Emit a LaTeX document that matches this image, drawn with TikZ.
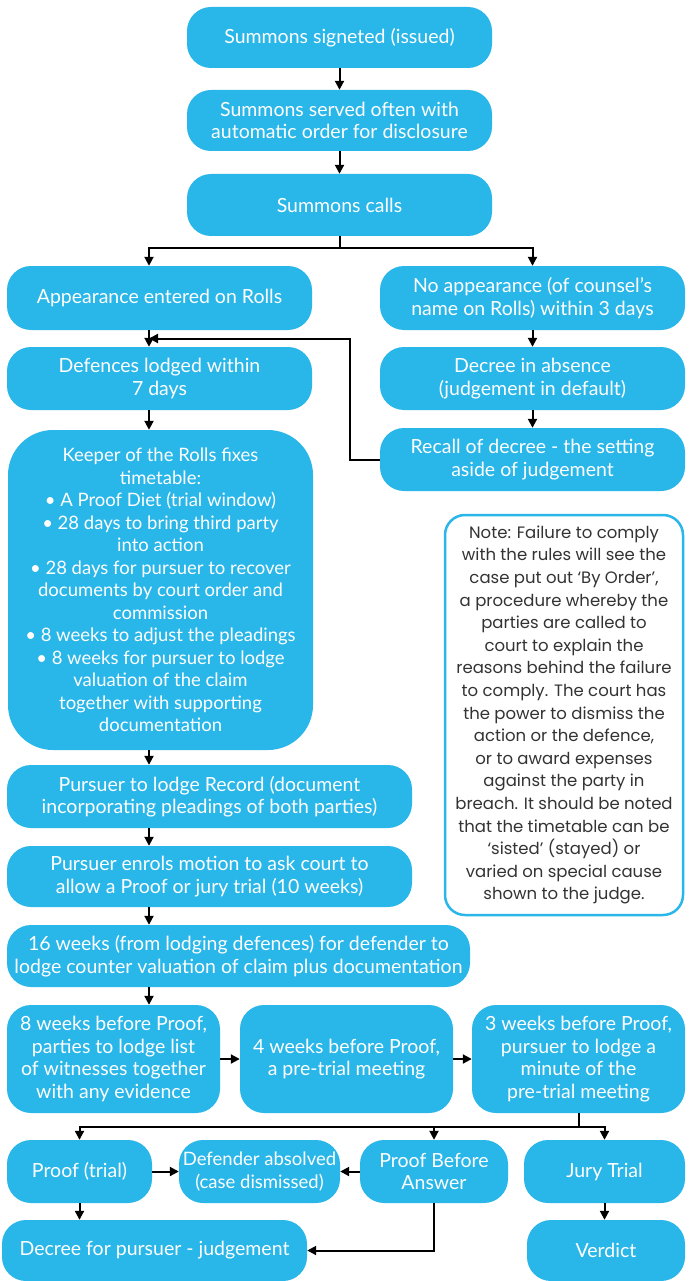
\documentclass[tikz,border=0pt]{standalone}
\usepackage{fontspec}
\setmainfont{Lato}
\newfontfamily\notefont{Poppins}
\usetikzlibrary{arrows.meta,positioning,calc}

\definecolor{stageblue}{HTML}{29B6E9}
\definecolor{notegray}{HTML}{333333}

\begin{document}
\begin{tikzpicture}[x=1pt,y=-1pt,
		stagebox/.style={fill=stageblue, text=white, rounded corners=24pt, align=center,
			inner sep=0pt, font=\fontsize{19.5}{22.5}\selectfont},
		notebox/.style={draw=stageblue, line width=2.5pt, fill=white, text=notegray,
			rounded corners=20pt, align=center, inner sep=0pt, font=\notefont\fontsize{16.5}{22.6}\selectfont},
		flow/.style={line width=2pt, -{Triangle[length=9pt,width=9pt]}},
		link/.style={line width=2pt}]
			\useasboundingbox (0,0) rectangle (688,1281);
			\coordinate (spine) at (149,0);
			
			% Issue and service
			\node[stagebox, minimum width=305, minimum height=61] (signeted) at (339.5,37.5) {Summons signeted (issued)};
			\node[stagebox, minimum width=305, minimum height=61] (served) at (339.5,120.5) {Summons served often with\\automatic order for disclosure};
			\node[stagebox, minimum width=305, minimum height=62] (calls) at (339.5,205) {Summons calls};
			
			% Appearance or not
			\node[stagebox, minimum width=305, minimum height=64] (appearance) at (159.5,298) {Appearance entered on Rolls};
			\node[stagebox, minimum width=305, minimum height=64] (noappear) at (532.5,298) {No appearance (of counsel's\\name on Rolls) within 3 days};
			\node[stagebox, minimum width=305, minimum height=63] (defences) at (159.5,378.5) {Defences lodged within\\7 days};
			\node[stagebox, minimum width=305, minimum height=63] (absence) at (532.5,378.5) {Decree in absence\\(judgement in default)};
			\node[stagebox, minimum width=305, minimum height=63] (recall) at (532.5,459.5) {Recall of decree - the setting\\aside of judgement};
			
			% Timetable
			\node[stagebox, rounded corners=45pt, minimum width=305, minimum height=320,
				font=\fontsize{18.5}{22.5}\selectfont] (keeper) at (160.5,590) {
				Keeper of the Rolls fixes\\
				timetable:\\
				• A Proof Diet (trial window)\\
				• 28 days to bring third party\\
				into action\\
				• 28 days for pursuer to recover\\
				documents by court order and\\
				commission\\
				• 8 weeks to adjust the pleadings\\
				• 8 weeks for pursuer to lodge\\
				valuation of the claim\\
				together with supporting\\
				documentation};
			\node[stagebox, minimum width=405, minimum height=63] (record) at (209.5,796.5) {Pursuer to lodge Record (document\\incorporating pleadings of both parties)};
			\node[stagebox, minimum width=405, minimum height=61] (motion) at (209.5,876.5) {Pursuer enrols motion to ask court to\\allow a Proof or jury trial (10 weeks)};
			\node[stagebox, minimum width=463, minimum height=62] (counter) at (238.5,956) {16 weeks (from lodging defences) for defender to\\lodge counter valuation of claim plus documentation};
			
			% Before the Proof
			\node[stagebox, minimum width=213, minimum height=108] (witnesses) at (113.5,1059) {8 weeks before Proof,\\parties to lodge list\\of witnesses together\\with any evidence};
			\node[stagebox, minimum width=213, minimum height=108] (meeting) at (346.5,1059) {4 weeks before Proof,\\a pre-trial meeting};
			\node[stagebox, minimum width=213, minimum height=108] (minute) at (578.5,1059) {3 weeks before Proof,\\pursuer to lodge a\\minute of the\\pre-trial meeting};
			
			% Outcomes
			\node[stagebox, minimum width=145, minimum height=63] (proof) at (79.5,1171.5) {Proof (trial)};
			\node[stagebox, minimum width=161, minimum height=63, font=\fontsize{18.5}{22.5}\selectfont] (absolved) at (259.5,1171.5) {Defender absolved\\(case dismissed)};
			\node[stagebox, minimum width=148, minimum height=63] (pba) at (434,1171.5) {Proof Before\\Answer};
			\node[stagebox, minimum width=161, minimum height=63] (jury) at (604.5,1171.5) {Jury Trial};
			\node[stagebox, minimum width=305, minimum height=61] (decree) at (154.5,1250.5) {Decree for pursuer - judgement};
			\node[stagebox, minimum width=158, minimum height=61] (verdict) at (606,1250.5) {Verdict};
			
			% Note
			\node[notebox, minimum width=238, minimum height=400] (note) at (564,715) {
				Note: Failure to comply\\
				with the rules will see the\\
				case put out ‘By Order’,\\
				a procedure whereby the\\
				parties are called to\\
				court to explain the\\
				reasons behind the failure\\
				to comply. The court has\\
				the power to dismiss the\\
				action or the defence,\\
				or to award expenses\\
				against the party in\\
				breach. It should be noted\\
				that the timetable can be\\
				‘sisted’ (stayed) or\\
				varied on special cause\\
				shown to the judge.};
			
			% Connectors
			\draw[flow] (signeted) -- (served);
			\draw[flow] (served) -- (calls);
			\draw[link] (calls.south) -- ++(0,12) coordinate (callsfork);
			\draw[flow] (callsfork) -| (appearance.north -| spine);
			\draw[flow] (callsfork) -| (noappear.north);
			\draw[flow] (appearance.south -| spine) -- (defences.north -| spine);
			\draw[flow] (noappear) -- (absence);
			\draw[flow] (absence) -- (recall);
			\coordinate (backin) at ($(appearance.south -| spine)!0.5!(defences.north -| spine)$);
			\draw[flow] (recall.west) -- ++(-30,0) |- (backin);
			\draw[flow] (defences.south -| spine) -- (keeper.north -| spine);
			\draw[flow] (keeper.south -| spine) -- (record.north -| spine);
			\draw[flow] (record.south -| spine) -- (motion.north -| spine);
			\draw[flow] (motion.south -| spine) -- (counter.north -| spine);
			\draw[flow] (counter.south -| spine) -- (witnesses.north -| spine);
			\draw[flow] (witnesses) -- (meeting);
			\draw[flow] (meeting) -- (minute);
			\draw[link] (minute.south) -- ++(0,14) coordinate (minutefork);
			\draw[flow] (minutefork) -| (proof.north);
			\draw[flow] (minutefork) -| (pba.north);
			\draw[flow] (minutefork) -| (jury.north);
			\draw[flow] (proof) -- (absolved);
			\draw[flow] (pba) -- (absolved);
			\draw[flow] (proof) -- (decree.north -| proof);
			\draw[flow] (pba.south) |- (decree.east);
			\draw[flow] (jury) -- (verdict.north -| jury);
		\end{tikzpicture}
\end{document}
